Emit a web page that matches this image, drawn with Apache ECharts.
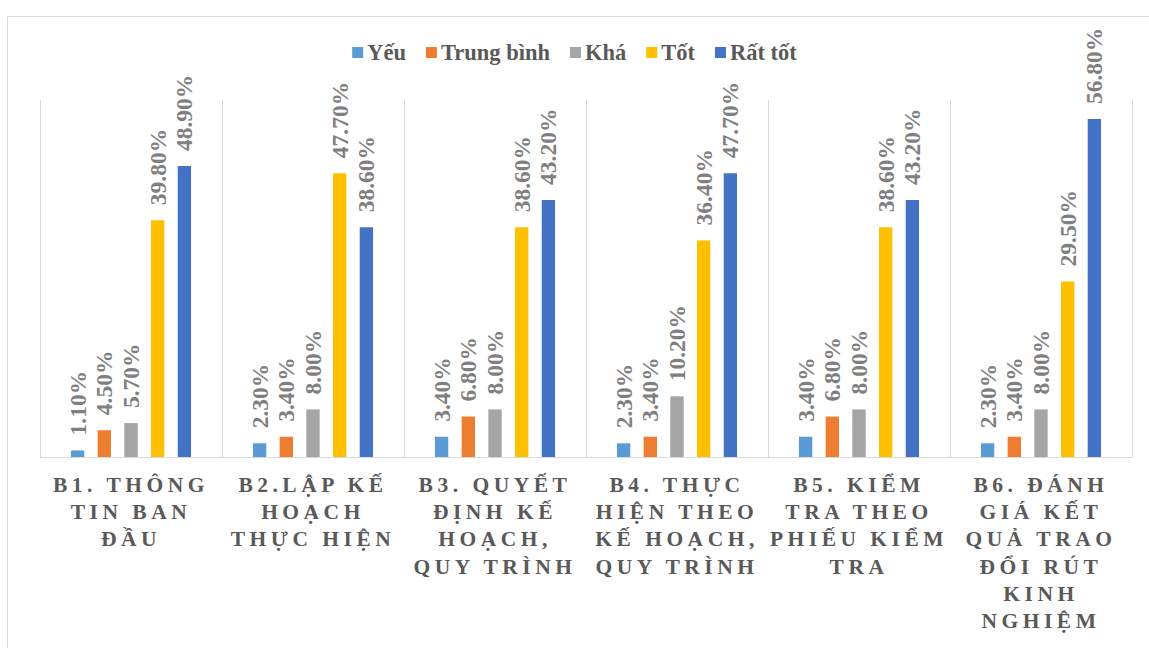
<!DOCTYPE html>
<html>
<head>
<meta charset="utf-8">
<script src="https://cdn.jsdelivr.net/npm/echarts@6/dist/echarts.min.js"></script>
<style>
  html, body { margin: 0; padding: 0; background: #ffffff; }
  #chart { width: 1149px; height: 648px; }
</style>
</head>
<body>
<div id="chart"></div>
<script>
// Evaluation steps (category labels, broken into lines as printed)
const categories = [
  'B1. THÔNG\nTIN BAN\nĐẦU',
  'B2.LẬP KẾ\nHOẠCH\nTHỰC HIỆN',
  'B3. QUYẾT\nĐỊNH KẾ\nHOẠCH,\nQUY TRÌNH',
  'B4. THỰC\nHIỆN THEO\nKẾ HOẠCH,\nQUY TRÌNH',
  'B5. KIỂM\nTRA THEO\nPHIẾU KIỂM\nTRA',
  'B6. ĐÁNH\nGIÁ KẾT\nQUẢ TRAO\nĐỔI RÚT\nKINH\nNGHIỆM'
];

// Percentage of responses per rating level
const seriesNames = ['Yếu', 'Trung bình', 'Khá', 'Tốt', 'Rất tốt'];
const yeu       = [1.1, 2.3, 3.4, 2.3, 3.4, 2.3];
const trungBinh = [4.5, 3.4, 6.8, 3.4, 6.8, 3.4];
const kha       = [5.7, 8.0, 8.0, 10.2, 8.0, 8.0];
const tot       = [39.8, 47.7, 38.6, 36.4, 38.6, 29.5];
const ratTot    = [48.9, 38.6, 43.2, 47.7, 43.2, 56.8];

const seriesValues = [yeu, trungBinh, kha, tot, ratTot];
const colors = ['#5B9BD5', '#ED7D31', '#A5A5A5', '#FFC000', '#4472C4'];

const serif = 'Liberation Serif';
const AXIS_FONT_SIZE = 21.5;

const chart = echarts.init(document.getElementById('chart'), null, { renderer: 'svg' });

chart.setOption({
  animation: false,
  backgroundColor: '#ffffff',
  color: colors,
  graphic: [{
    type: 'rect',
    left: 5, top: 14,
    shape: { width: 1170, height: 700 },
    style: { fill: 'none', stroke: '#d9d9d9', lineWidth: 1 },
    silent: true
  }],
  legend: {
    top: 36,
    left: 'center',
    itemWidth: 11,
    itemHeight: 11,
    itemGap: 20,
    icon: 'rect',
    textStyle: { fontFamily: serif, fontSize: 22.5, fontWeight: 'bold', color: '#595959', padding: [0, 0, 0, -1] },
    data: seriesNames
  },
  grid: { left: 40, right: 17, top: 100, bottom: 191, containLabel: false },
  xAxis: {
    type: 'category',
    data: categories,
    boundaryGap: true,
    axisLine: { show: true, lineStyle: { color: '#d9d9d9', width: 1 } },
    axisTick: { show: false },
    splitLine: { show: true, lineStyle: { color: '#d9d9d9', width: 1 } },
    axisLabel: {
      interval: 0,
      margin: 14,
      fontFamily: serif,
      fontSize: AXIS_FONT_SIZE,
      fontWeight: 'bold',
      color: '#595959',
      lineHeight: 27.3,
      align: 'center'
    }
  },
  yAxis: {
    type: 'value',
    min: 0,
    max: 60,
    show: false,
    splitLine: { show: false }
  },
  series: seriesNames.map((name, i) => ({
    name: name,
    type: 'bar',
    data: seriesValues[i],
    barGap: '100%',
    barCategoryGap: '34%',
    label: {
      show: true,
      position: 'top',
      rotate: 90,
      align: 'left',
      verticalAlign: 'middle',
      distance: 15,
      fontFamily: serif,
      fontSize: 23.5,
      fontWeight: 'bold',
      color: '#7f7f7f',
      formatter: p => p.value.toFixed(2) + '%'
    }
  }))
});

// Widen the tracking of the category labels
function spaceAxisLabels() {
  document.querySelectorAll('#chart text').forEach(t => {
    if (parseFloat(getComputedStyle(t).fontSize) === AXIS_FONT_SIZE) {
      t.style.letterSpacing = '4.5px';
    }
  });
}
spaceAxisLabels();
chart.on('finished', spaceAxisLabels);
</script>
</body>
</html>
